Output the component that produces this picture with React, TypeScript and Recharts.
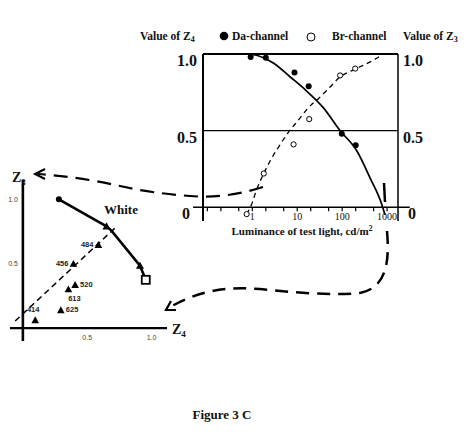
import React from 'react';
import { ComposedChart, Line, Scatter, XAxis, YAxis, ReferenceLine } from 'recharts';

const SERIF = '"Liberation Serif", "Times New Roman", serif';
const SANS = '"Liberation Sans", Arial, sans-serif';

// right panel: Z value against luminance of the test light (cd/m2)
const daLum = [0.92, 2, 8.7, 18, 98, 200];
const daZ4 = [0.98, 0.975, 0.88, 0.79, 0.48, 0.405];
const brLum = [0.75, 1.8, 8.3, 18.5, 90, 195];
const brZ3 = [-0.045, 0.22, 0.41, 0.575, 0.86, 0.905];

// hand drawn fits
const daFitLum = [0.85, 1.3, 3, 7, 16, 38, 90, 210, 420, 760, 900];
const daFitZ4 = [1.0, 0.99, 0.94, 0.85, 0.76, 0.65, 0.5, 0.37, 0.19, 0.02, -0.05];
const brFitLum = [0.75, 1, 1.2, 1.8, 2.7, 4.2, 6.4, 10.7, 17.8, 30, 50, 90, 210, 500, 820];
const brFitZ3 = [-0.045, 0.03, 0.1, 0.22, 0.32, 0.41, 0.49, 0.57, 0.65, 0.71, 0.775, 0.85, 0.905, 0.96, 1.0];

const lumTicks = [0.1, 0.2, 0.5, 1, 2, 5, 10, 20, 50, 100, 200, 500, 1000];
const lumLabelled = [1, 10, 100, 1000];
const zTicks = [0, 0.5, 1];

// left inset: Z4 / Z3 plane
const whiteZ4 = [0.28, 0.65, 0.69, 0.91, 0.955];
const whiteZ3 = [1.0, 0.79, 0.755, 0.485, 0.375];
const whiteMarks = ['circle', 'triangle', 'none', 'triangle', 'square'];
const guideZ4 = [-0.06, 0.73];
const guideZ3 = [0.055, 0.79];
const waveNames = ['414', '456', '484', '520', '613', '625'];
const waveZ4 = [0.096, 0.393, 0.587, 0.406, 0.354, 0.295];
const waveZ3 = [0.062, 0.5, 0.646, 0.336, 0.302, 0.14];
const waveSide = ['above', 'left', 'left', 'right', 'below', 'right'];
const insetTicks = [0.5, 1];

const toPts = (xs: number[], ys: number[]) => xs.map((x, i) => ({ x, y: ys[i] }));

const daPts = toPts(daLum, daZ4);
const brPts = toPts(brLum, brZ3);
const daFit = toPts(daFitLum, daFitZ4);
const brFit = toPts(brFitLum, brFitZ3);
const whitePts = toPts(whiteZ4, whiteZ3);
const guidePts = toPts(guideZ4, guideZ3);
const wavePts = waveNames.map((name, i) => ({ x: waveZ4[i], y: waveZ3[i], name, side: waveSide[i] }));

// layout
const MAIN_W = 474;
const MAIN_H = 260;
const MAIN_MARGIN = { top: 54, right: 46, bottom: 19, left: 173 };
const LUM_DOMAIN = [0.08, 1750];
const Z_MIN = -0.09;
const Z_MAX = 1;
const mainPlotH = MAIN_H - MAIN_MARGIN.top - MAIN_MARGIN.bottom - 20;
const MAIN_ZERO_Y = MAIN_MARGIN.top + (mainPlotH * Z_MAX) / (Z_MAX - Z_MIN);

const INSET_W = 200;
const INSET_H = 360;
const INSET_MARGIN = { top: 180, right: 33, bottom: 9, left: 0 };
const IX = [-0.1, 1.12];
const IY = [-0.1, 1.15];
const insetPlotW = INSET_W - INSET_MARGIN.left - INSET_MARGIN.right - 10;
const insetPlotH = INSET_H - INSET_MARGIN.top - INSET_MARGIN.bottom - 10;
const INSET_ZERO_X = INSET_MARGIN.left + 10 + (insetPlotW * -IX[0]) / (IX[1] - IX[0]);
const INSET_ZERO_Y = INSET_MARGIN.top + (insetPlotH * IY[1]) / (IY[1] - IY[0]);

const LumTick = (p: any) => {
  const v = p.payload.value;
  return (
    <g>
      <line x1={p.x} x2={p.x} y1={MAIN_ZERO_Y} y2={MAIN_ZERO_Y + 4} stroke="#000" strokeWidth={1.2} />
      {lumLabelled.includes(v) && (
        <text x={p.x} y={MAIN_ZERO_Y + 13} textAnchor="middle" fontFamily={SERIF} fontSize={10} fill="#111">
          {v}
        </text>
      )}
    </g>
  );
};

const ZTick = (p: any) => {
  const v = p.payload.value;
  const left = p.side === 'left';
  // the zero labels sit a little further out than the others
  const shift = v === 0 ? (left ? -7 : 5) : 0;
  return (
    <text
      x={p.x + shift}
      y={p.y + 12}
      textAnchor={left ? 'end' : 'start'}
      fontFamily={SERIF}
      fontWeight="bold"
      fontSize={16}
      fill="#111"
    >
      {v === 0 ? '0' : v.toFixed(1)}
    </text>
  );
};

const InsetXTick = (p: any) => (
  <text x={p.x} y={INSET_ZERO_Y + 12} textAnchor="middle" fontFamily={SANS} fontSize={7} fill="#444">
    {p.payload.value.toFixed(1)}
  </text>
);

const InsetYTick = (p: any) => (
  <text x={INSET_ZERO_X - 5} y={p.y + 2.5} textAnchor="end" fontFamily={SANS} fontSize={7} fill="#444">
    {p.payload.value.toFixed(1)}
  </text>
);

const tri = (cx: number, cy: number, s: number) =>
  `${cx},${cy - s} ${cx - s},${cy + s * 0.8} ${cx + s},${cy + s * 0.8}`;

const FilledDot = (p: any) => <circle cx={p.cx} cy={p.cy} r={3} fill="#000" />;
const OpenDot = (p: any) => <circle cx={p.cx} cy={p.cy} r={2.6} fill="#fff" stroke="#000" strokeWidth={1} />;

const WhiteDot = (p: any) => {
  const k = whiteMarks[p.index];
  const key = `w${p.index}`;
  if (k === 'circle') return <circle key={key} cx={p.cx} cy={p.cy} r={3} fill="#000" />;
  if (k === 'triangle') return <polygon key={key} points={tri(p.cx, p.cy, 4)} fill="#000" />;
  if (k === 'square')
    return <rect key={key} x={p.cx - 4} y={p.cy - 4} width={8} height={8} fill="#fff" stroke="#000" strokeWidth={1.8} />;
  return <g key={key} />;
};

const SpectralMark = (p: any) => {
  const { cx, cy, payload } = p;
  let tx = cx;
  let ty = cy + 2;
  let anchor = 'middle';
  if (payload.side === 'left') {
    tx = cx - 5;
    anchor = 'end';
  } else if (payload.side === 'right') {
    tx = cx + 5;
    anchor = 'start';
  } else if (payload.side === 'below') {
    tx = cx + 6;
    ty = cy + 12;
  } else if (payload.side === 'above') {
    tx = cx - 2;
    ty = cy - 8;
  }
  return (
    <g>
      <polygon points={tri(cx, cy, 3.8)} fill="#000" />
      <text x={tx} y={ty} textAnchor={anchor} fontFamily={SANS} fontWeight="bold" fontSize={7.5} fill="#222">
        {payload.name}
      </text>
    </g>
  );
};

const App = () => {
  return (
    <div style={{ position: 'absolute', left: 0, top: 0, width: 474, height: 442, background: '#fff', overflow: 'hidden' }}>
      <div style={{ position: 'absolute', left: 0, top: 0 }}>
        <ComposedChart width={MAIN_W} height={MAIN_H} margin={MAIN_MARGIN}>
          <XAxis
            type="number"
            dataKey="x"
            scale="log"
            domain={LUM_DOMAIN}
            ticks={lumTicks}
            interval={0}
            height={20}
            axisLine={false}
            tickLine={false}
            tick={<LumTick />}
          />
          <YAxis
            yAxisId="z4"
            type="number"
            dataKey="y"
            domain={[Z_MIN, Z_MAX]}
            ticks={zTicks}
            interval={0}
            width={30}
            tickSize={0}
            tickMargin={6}
            tickLine={false}
            axisLine={{ stroke: '#000', strokeWidth: 2 }}
            tick={<ZTick side="left" />}
          />
          <YAxis
            yAxisId="z3"
            orientation="right"
            type="number"
            dataKey="y"
            domain={[Z_MIN, Z_MAX]}
            ticks={zTicks}
            interval={0}
            width={30}
            tickSize={0}
            tickMargin={5}
            tickLine={false}
            axisLine={{ stroke: '#000', strokeWidth: 1.5 }}
            tick={<ZTick side="right" />}
          />
          <ReferenceLine yAxisId="z4" y={1} stroke="#000" strokeWidth={1.8} />
          <ReferenceLine yAxisId="z4" y={0.5} stroke="#000" strokeWidth={1.3} />
          <ReferenceLine
            yAxisId="z4"
            segment={[{ x: 0.048, y: 0 }, { x: 3200, y: 0 }]}
            ifOverflow="visible"
            stroke="#000"
            strokeWidth={1.5}
          />
          <Line yAxisId="z4" data={daFit} dataKey="y" type="monotone" stroke="#000" strokeWidth={1.7} dot={false} isAnimationActive={false} />
          <Line
            yAxisId="z3"
            data={brFit}
            dataKey="y"
            type="monotone"
            stroke="#000"
            strokeWidth={1.3}
            strokeDasharray="5 4"
            dot={false}
            isAnimationActive={false}
          />
          <Scatter yAxisId="z4" data={daPts} shape={FilledDot} isAnimationActive={false} />
          <Scatter yAxisId="z3" data={brPts} shape={OpenDot} isAnimationActive={false} />
        </ComposedChart>
      </div>

      <div style={{ position: 'absolute', left: 0, top: 0 }}>
        <ComposedChart width={INSET_W} height={INSET_H} margin={INSET_MARGIN}>
          <XAxis
            type="number"
            dataKey="x"
            domain={IX}
            ticks={insetTicks}
            interval={0}
            height={10}
            axisLine={false}
            tickLine={false}
            tick={<InsetXTick />}
          />
          <YAxis
            type="number"
            dataKey="y"
            domain={IY}
            ticks={insetTicks}
            interval={0}
            width={10}
            axisLine={false}
            tickLine={false}
            tick={<InsetYTick />}
          />
          <ReferenceLine x={0} stroke="#000" strokeWidth={2.6} />
          <ReferenceLine y={0} stroke="#000" strokeWidth={2.2} />
          <Line data={guidePts} dataKey="y" type="linear" stroke="#000" strokeWidth={1.5} strokeDasharray="6 4" dot={false} isAnimationActive={false} />
          <Line data={whitePts} dataKey="y" type="linear" stroke="#000" strokeWidth={2.6} dot={WhiteDot} isAnimationActive={false} />
          <Scatter data={wavePts} shape={SpectralMark} isAnimationActive={false} />
        </ComposedChart>
      </div>

      <svg width={474} height={442} style={{ position: 'absolute', left: 0, top: 0, pointerEvents: 'none' }}>
        <g fontFamily={SERIF} fontWeight="bold" fill="#111">
          <text x={140} y={40} fontSize={11.5}>
            Value of Z<tspan fontSize={8} dy={2}>4</tspan>
          </text>
          <circle cx={224} cy={36} r={4.3} fill="#000" />
          <text x={232} y={40} fontSize={11.5}>Da-channel</text>
          <circle cx={311} cy={37} r={4} fill="#fff" stroke="#000" strokeWidth={1} />
          <text x={332} y={40} fontSize={11.5}>Br-channel</text>
          <text x={403} y={40} fontSize={11.5}>
            Value of Z<tspan fontSize={8} dy={2}>3</tspan>
          </text>
          <text x={302} y={235} fontSize={11} textAnchor="middle">
            Luminance of test light, cd/m<tspan fontSize={7.5} dy={-4}>2</tspan>
          </text>
          <text x={12} y={182} fontSize={14}>
            Z<tspan fontSize={9} dy={3}>3</tspan>
          </text>
          <text x={172} y={334} fontSize={14}>
            Z<tspan fontSize={9} dy={3}>4</tspan>
          </text>
          <text x={104} y={214} fontSize={13}>White</text>
          <text x={222} y={419} fontSize={13} textAnchor="middle">Figure 3 C</text>
        </g>
        <g fill="none" stroke="#000" strokeLinecap="butt">
          <path d="M 263 187 Q 225 199 190 196 Q 150 193 120 186 Q 80 177 38 174" strokeWidth={2.2} strokeDasharray="14 8" />
          <polyline points="45,169 35,174 45,179" strokeWidth={2} />
          <path d="M 384 183 L 385 202" strokeWidth={2.5} />
          <path d="M 387 231 C 390 265 385 288 360 293 C 330 296 290 292 260 289 C 230 287 205 288 170 307" strokeWidth={2.5} strokeDasharray="13 8" />
          <polyline points="171,301 166,310 176,310" strokeWidth={2.2} />
        </g>
      </svg>
    </div>
  );
};

export default App;
